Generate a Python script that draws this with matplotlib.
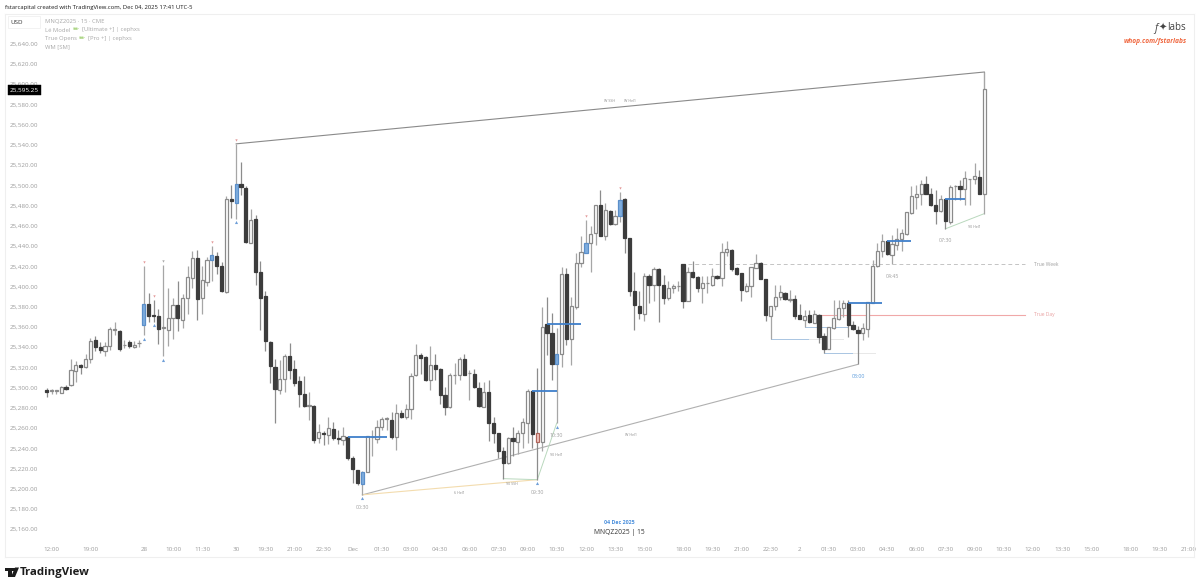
import matplotlib
matplotlib.use('Agg')
import matplotlib.pyplot as plt
from matplotlib.patches import Rectangle, Polygon

plt.rcParams['font.family'] = ['Open Sans', 'DejaVu Sans']

# valores (velas de 15 min)
opens = [25298,25297,25297,25295,25301,25303,25316,25322,25320,25328,
         25347,25340,25336,25341,25357,25356,25342,25345,25340,25344,
         25362,25383,25372,25371,25359,25357,25369,25382,25367,25389,
         25408,25428,25389,25404,25426,25430,25420,25395,25486,25483,
         25501,25497,25443,25467,25414,25391,25345,25320,25298,25309,
         25331,25318,25307,25294,25282,25282,25250,25255,25253,25259,
         25250,25248,25251,25230,25219,25205,25217,25251,25249,25261,
         25269,25268,25251,25275,25271,25279,25312,25332,25330,25308,
         25322,25318,25293,25281,25312,25312,25328,25314,25313,25300,
         25281,25296,25265,25255,25237,25225,25250,25246,25255,25265,
         25297,25246,25246,25363,25354,25323,25333,25412,25348,25380,
         25423,25433,25443,25453,25481,25450,25475,25462,25470,25486,
         25448,25396,25381,25373,25410,25401,25417,25401,25389,25398,
         25400,25422,25386,25414,25409,25398,25403,25401,25410,25408,
         25434,25436,25418,25413,25396,25400,25418,25423,25407,25371,
         25381,25390,25394,25387,25388,25372,25367,25372,25364,25372,
         25351,25338,25359,25368,25379,25384,25362,25357,25354,25358,
         25384,25420,25435,25445,25431,25441,25447,25452,25473,25488,
         25491,25501,25491,25481,25475,25486,25464,25499,25499,25496,
         25506,25506,25508,25491]
closes = [25296,25297,25297,25301,25299,25317,25322,25320,25328,25346,
          25340,25337,25341,25358,25357,25338,25342,25341,25342,25344,
          25383,25371,25371,25358,25359,25369,25382,25369,25389,25409,
          25428,25388,25406,25426,25431,25420,25396,25486,25484,25501,
          25498,25444,25466,25414,25389,25346,25321,25299,25309,25331,
          25317,25305,25294,25282,25282,25248,25256,25254,25260,25250,
          25249,25252,25230,25220,25206,25217,25252,25251,25261,25269,
          25269,25251,25275,25271,25279,25311,25332,25329,25308,25322,
          25318,25293,25281,25312,25312,25328,25312,25314,25301,25282,
          25296,25265,25255,25237,25225,25250,25247,25255,25266,25297,
          25254,25255,25360,25354,25323,25333,25412,25348,25381,25423,
          25434,25443,25452,25481,25450,25476,25462,25470,25485,25448,
          25396,25382,25374,25410,25401,25417,25401,25389,25398,25400,
          25400,25386,25414,25409,25398,25403,25403,25410,25408,25434,
          25437,25417,25412,25397,25400,25419,25423,25407,25372,25381,
          25390,25395,25388,25387,25371,25368,25371,25365,25373,25350,
          25338,25360,25369,25379,25384,25362,25358,25354,25359,25385,
          25420,25435,25445,25432,25442,25447,25453,25474,25489,25491,
          25501,25491,25481,25475,25486,25465,25498,25499,25496,25507,
          25506,25509,25491,25595.25]
highs = [25300,25299,25298,25302,25303,25328,25326,25323,25333,25349,
         25351,25345,25345,25360,25365,25357,25347,25347,25346,25347,
         25420,25394,25387,25378,25421,25398,25389,25405,25393,25420,
         25435,25436,25420,25429,25440,25434,25424,25489,25500,25541,
         25523,25499,25477,25471,25425,25396,25346,25328,25327,25333,
         25344,25327,25311,25311,25296,25283,25264,25257,25271,25266,
         25258,25261,25252,25232,25219,25218,25252,25258,25268,25271,
         25271,25276,25284,25278,25284,25314,25343,25334,25331,25341,
         25333,25319,25301,25314,25324,25330,25333,25317,25318,25306,
         25306,25308,25271,25255,25241,25251,25261,25258,25270,25299,
         25298,25319,25380,25390,25374,25359,25419,25418,25390,25433,
         25450,25466,25460,25481,25495,25483,25476,25476,25493,25487,
         25448,25414,25396,25413,25412,25419,25418,25411,25405,25402,
         25405,25422,25419,25425,25410,25410,25410,25418,25411,25443,
         25445,25437,25419,25413,25403,25419,25432,25424,25407,25381,
         25401,25401,25395,25397,25392,25383,25377,25377,25377,25373,
         25354,25360,25387,25387,25387,25387,25366,25361,25364,25385,
         25426,25443,25452,25446,25451,25458,25457,25474,25499,25500,
         25505,25509,25497,25495,25490,25486,25500,25500,25505,25514,
         25506,25522,25515,25612]
lows = [25291,25294,25294,25295,25298,25302,25306,25313,25319,25324,
        25336,25334,25331,25337,25352,25336,25339,25339,25339,25340,
        25352,25365,25365,25343,25331,25341,25348,25356,25359,25373,
        25398,25367,25373,25400,25405,25412,25395,25394,25468,25467,
        25490,25443,25443,25401,25357,25336,25305,25265,25294,25296,
        25309,25302,25281,25281,25268,25245,25245,25243,25244,25248,
        25244,25243,25228,25206,25204,25194,25217,25232,25245,25258,
        25258,25249,25238,25270,25269,25269,25311,25313,25307,25298,
        25308,25284,25273,25280,25304,25308,25312,25288,25300,25281,
        25281,25247,25245,25230,25210,25224,25232,25234,25240,25245,
        25240,25209,25237,25332,25308,25265,25320,25342,25322,25378,
        25419,25433,25414,25441,25450,25446,25461,25461,25464,25433,
        25391,25357,25368,25366,25384,25386,25365,25383,25387,25394,
        25396,25379,25386,25408,25395,25384,25394,25400,25407,25400,
        25430,25415,25411,25386,25395,25390,25418,25407,25366,25348,
        25377,25387,25387,25385,25368,25368,25360,25364,25364,25344,
        25334,25338,25358,25367,25370,25350,25357,25323,25347,25350,
        25384,25419,25429,25431,25422,25436,25435,25451,25472,25477,
        25481,25491,25480,25462,25474,25457,25462,25485,25485,25481,
        25481,25501,25491,25472]

blue_bars = [20, 34, 39, 65, 105, 111, 118]
pink_bars = [101]

price_ticks = list(range(25160, 25641, 20))
time_pos = [1, 9, 20, 26, 32, 39, 45, 51, 57, 63, 69, 75, 81, 87, 93, 99, 105, 111, 117,
            123, 131, 137, 143, 149, 155, 161, 167, 173, 179, 185, 191, 197, 203, 209,
            215, 223, 229, 235]
time_labels = ['12:00', '19:00', '28', '10:00', '11:30', '30', '19:30', '21:00', '22:30',
               'Dec', '01:30', '03:00', '04:30', '06:00', '07:30', '09:00', '10:30', '12:00',
               '13:30', '15:00', '18:00', '19:30', '21:00', '22:30', '2', '01:30', '03:00',
               '04:30', '06:00', '07:30', '09:00', '10:30', '12:00', '13:30', '15:00',
               '18:00', '19:30', '21:00']

# niveles azules: salen del open de la vela de inicio
level_start = [62, 100, 103, 165, 173, 185]
level_end = [70, 105, 110, 172, 178, 189]

# triangulos sobre maximos y bajo minimos
top_marks = [20, 22, 34, 39, 111, 118]
bottom_marks = [20, 22, 24, 39, 65, 101, 105]

true_week = 25422
true_day = 25372

W, H = 1200, 588
fig = plt.figure(figsize=(12, 5.88), dpi=100, facecolor='white')


def fx(x):
    return x / W


def fy(y):
    return 1 - y / H


ax = fig.add_axes([fx(5), fy(557), fx(1189), 543 / H])
bar_px = 4.858
ax.set_xlim((5 - 46.67) / bar_px, (1194 - 46.67) / bar_px)
ax.set_ylim(25683.2 - 0.9886 * 557, 25683.2 - 0.9886 * 14)

for s in ax.spines.values():
    s.set_color('#efefef')
    s.set_linewidth(0.8)

ax.set_yticks(price_ticks)
ax.set_yticklabels(['{:,.2f}'.format(p) for p in price_ticks], fontsize=4.5, color='#9c9c9c')
ax.tick_params(axis='y', length=0, pad=-3.6)
for lbl in ax.get_yticklabels():
    lbl.set_ha('left')
ax.set_xticks(time_pos)
ax.set_xticklabels(time_labels, fontsize=4.5, color='#9c9c9c')
ax.tick_params(axis='x', length=0, pad=-7.5)

# lineas de estructura
ax.plot([39, 193], [highs[39], highs[193]], color='#8a8a8a', lw=0.8, zorder=1)
ax.plot([193, 193], [highs[193], closes[193]], color='#8a8a8a', lw=0.8, zorder=1)
ax.plot([65, 167], [lows[65], lows[167]], color='#b0b0b0', lw=0.8, zorder=1)
ax.plot([65, 101], [lows[65], lows[101]], color='#f3dcae', lw=0.8, zorder=1)
ax.plot([94, 101], [lows[94], lows[101]], color='#b9d8bd', lw=0.7, zorder=1)
ax.plot([101, 105], [lows[101], lows[105]], color='#b9d8bd', lw=0.7, zorder=1)
ax.plot([185, 193], [lows[185], lows[193]], color='#b9d8bd', lw=0.7, zorder=1)

ax.plot([132, 201.4], [true_week, true_week], color='#c4c4c4', lw=0.7, ls=(0, (4, 3)), zorder=1)
ax.plot([158.8, 201.4], [true_day, true_day], color='#f0a8a8', lw=0.8, zorder=1)
ax.text(203.2, true_week, 'True Week', fontsize=3.6, color='#a0a0a0', va='center')
ax.text(203.2, true_day, 'True Day', fontsize=3.6, color='#e8a0a0', va='center')

# niveles finos
ax.plot([149, 157], [lows[149], lows[149]], color='#a9c5e2', lw=0.7, zorder=1)
ax.plot([157, 164], [lows[149], lows[149]], color='#e8e8e8', lw=0.7, zorder=1)
ax.plot([156, 165], [lows[156], lows[156]], color='#a9c5e2', lw=0.7, zorder=1)
ax.plot([160, 166], [lows[160], lows[160]], color='#a9c5e2', lw=0.7, zorder=1)
ax.plot([166, 170.5], [lows[160], lows[160]], color='#e8e8e8', lw=0.7, zorder=1)

# velas
for i in range(len(opens)):
    up = closes[i] >= opens[i]
    wick = '#a6a6a6' if up else '#8c8c8c'
    face, edge = ('white', '#8a8a8a') if up else ('#3c3c3c', '#3c3c3c')
    if i in blue_bars:
        face, edge, wick = '#7fadde', '#5b8fc9', '#a6a6a6'
    if i in pink_bars:
        face, edge, wick = '#f3c9c3', '#b0665c', '#8c8c8c'
    ax.vlines(i, lows[i], highs[i], color=wick, lw=0.9, zorder=2)
    bottom = min(opens[i], closes[i])
    height = max(abs(closes[i] - opens[i]), 0.6)
    ax.bar(i, height, bottom=bottom, width=0.66, facecolor=face, edgecolor=edge,
           linewidth=0.9, zorder=3)

for a, b in zip(level_start, level_end):
    ax.plot([a, b], [opens[a], opens[a]], color='#3f7fca', lw=1.3, zorder=4,
            solid_capstyle='butt')

ax.scatter(top_marks, [highs[i] + 4 for i in top_marks], marker='v', s=3, color='#e39a9a',
           linewidths=0, zorder=4)
ax.scatter(bottom_marks, [lows[i] - 3.5 for i in bottom_marks], marker='^', s=5, color='#6f9fd8',
           linewidths=0, zorder=4)
ax.scatter([24], [highs[24] + 4], marker='v', s=3, color='#a8a8a8', linewidths=0, zorder=4)

# etiquetas pequenas
small = '#8e8e8e'
ax.text(115.9, 25583, 'W SSH', fontsize=2.6, color=small, ha='center', va='center')
ax.text(120, 25583, 'W Hel1', fontsize=2.6, color=small, ha='center', va='center')
ax.text(120.3, 25253, 'W Hel1', fontsize=2.6, color=small, ha='center', va='center')
ax.text(85, 25196, '6 Hel1', fontsize=2.6, color=small, ha='center', va='center')
ax.text(95.7, 25205, '90 SSH', fontsize=2.6, color=small, ha='center', va='center')
ax.text(105, 25233, '90 Hel1', fontsize=2.6, color=small, ha='center', va='center')
ax.text(191, 25459, '90 Hel1', fontsize=2.6, color=small, ha='center', va='center')

grey = '#a0a0a0'
ax.text(65, 25181, '00:30', fontsize=3.8, color=grey, ha='center', va='center')
ax.text(101, 25196, '09:30', fontsize=3.8, color=grey, ha='center', va='center')
ax.text(105, 25253, '10:30', fontsize=3.8, color=grey, ha='center', va='center')
ax.text(174, 25410, '04:45', fontsize=3.8, color=grey, ha='center', va='center')
ax.text(185, 25445, '07:30', fontsize=3.8, color=grey, ha='center', va='center')
ax.text(167, 25311, '03:00', fontsize=3.8, color='#5b9bdc', ha='center', va='center')

# textos fuera del area de velas
fig.text(fx(5), fy(7), 'fstarcapital created with TradingView.com, Dec 04, 2025 17:41 UTC-5',
         fontsize=4.2, color='#1a1a1a', va='center')
fig.add_artist(Rectangle((fx(8), fy(28)), 32 / W, 12 / H, transform=fig.transFigure,
                         facecolor='white', edgecolor='#f0f0f0', lw=0.6, zorder=5))
fig.text(fx(17), fy(22.5), 'USD', fontsize=4.5, color='#333333', ha='center', va='center', zorder=6)

legend_c = '#a8a8a8'
fig.text(fx(45), fy(21), 'MNQZ2025 · 15 · CME', fontsize=4.2, color=legend_c, va='center')
fig.text(fx(45), fy(30), 'Lé Model', fontsize=4.2, color=legend_c, va='center')
fig.text(fx(72.5), fy(30), '✏', fontsize=5, color='#8fc75a', va='center')
fig.text(fx(82), fy(30), '[Ultimate +] | cephxs', fontsize=4.2, color=legend_c, va='center')
fig.text(fx(45), fy(38.5), 'True Opens', fontsize=4.2, color=legend_c, va='center')
fig.text(fx(78.5), fy(38.5), '✏', fontsize=5, color='#8fc75a', va='center')
fig.text(fx(88), fy(38.5), '[Pro +] | cephxs', fontsize=4.2, color=legend_c, va='center')
fig.text(fx(45), fy(47), 'WM [SM]', fontsize=4.2, color=legend_c, va='center')

fig.add_artist(Rectangle((fx(7.5), fy(94.5)), 33.5 / W, 9.5 / H, transform=fig.transFigure,
                         facecolor='black', edgecolor='black', lw=0.3, zorder=5))
fig.text(fx(24), fy(89.8), '{:,.2f}'.format(closes[-1]), fontsize=4.6, color='white',
         ha='center', va='center', zorder=6)

fig.text(fx(1156), fy(28), 'f', fontsize=7.5, style='italic', color='#444444', ha='center', va='center')
fig.text(fx(1162.5), fy(28), '✦', fontsize=7, color='#444444', ha='center', va='center')
fig.text(fx(1186), fy(28), 'labs', fontsize=7, color='#444444', ha='right', va='center')
fig.text(fx(1187), fy(41.5), 'whop.com/fstarlabs', fontsize=4.8, color='#f0673f', style='italic',
         weight='bold', ha='right', va='center')

fig.text(fx(619), fy(522), '04 Dec 2025', fontsize=3.8, color='#4a8fdc', weight='bold', ha='center', va='center')
fig.text(fx(619), fy(532), 'MNQZ2025 | 15', fontsize=4.9, color='#333333', ha='center', va='center')

# logo
logo = '#1c1c1c'
fig.add_artist(Polygon([(fx(5), fy(567.5)), (fx(11.5), fy(567.5)), (fx(11.5), fy(577)),
                        (fx(8), fy(577)), (fx(8), fy(571)), (fx(5), fy(571))],
                       transform=fig.transFigure, facecolor=logo, edgecolor='none'))
fig.add_artist(Polygon([(fx(15), fy(567.5)), (fx(19), fy(567.5)), (fx(15), fy(577)), (fx(11), fy(577))],
                       transform=fig.transFigure, facecolor=logo, edgecolor='none'))
fig.add_artist(Rectangle((fx(12), fy(570.5)), 2.5 / W, 3 / H, transform=fig.transFigure,
                         facecolor=logo, edgecolor='none'))
fig.text(fx(20), fy(572.5), 'TradingView', fontsize=8.2, color=logo, weight='bold', va='center')

fig.savefig('out.png', dpi=100)
